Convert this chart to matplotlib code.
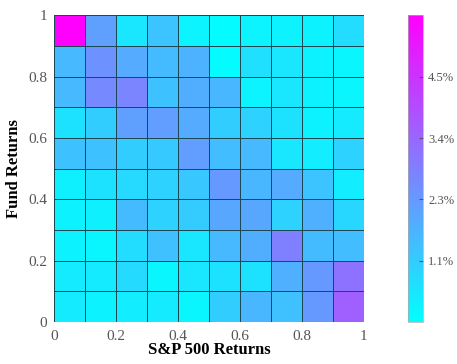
import numpy as np
import matplotlib.pyplot as plt

# bin edges for both axes
x_edges = np.linspace(0, 1, 11)
y_edges = np.linspace(0, 1, 11)

# joint frequency (%), rows listed from top (fund 0.9-1) to bottom (fund 0-0.1)
row_90 = [5.60, 2.10, 0.55, 1.30, 0.25, 0.10, 0.25, 0.30, 0.30, 0.75]
row_80 = [1.55, 2.40, 1.85, 1.50, 1.70, 0.10, 0.70, 0.55, 0.30, 0.20]
row_70 = [1.55, 2.60, 2.70, 1.35, 1.80, 1.60, 0.25, 0.55, 0.30, 0.20]
row_60 = [0.65, 1.10, 2.10, 2.15, 1.85, 1.10, 1.00, 0.65, 0.30, 0.45]
row_50 = [1.35, 1.35, 1.10, 1.20, 2.15, 1.45, 1.55, 0.55, 0.40, 1.00]
row_40 = [0.35, 0.65, 0.85, 1.00, 1.25, 2.25, 1.60, 1.85, 1.30, 0.40]
row_30 = [0.30, 0.35, 1.50, 1.00, 1.15, 1.95, 1.95, 1.00, 1.75, 0.90]
row_20 = [0.30, 0.20, 0.75, 1.40, 0.55, 1.55, 1.80, 2.80, 1.50, 1.45]
row_10 = [0.45, 0.45, 0.80, 0.20, 0.55, 0.65, 0.65, 1.75, 2.25, 3.10]
row_00 = [0.45, 0.30, 0.40, 0.45, 0.20, 1.10, 1.60, 1.40, 2.25, 3.50]

freq = np.array([row_00, row_10, row_20, row_30, row_40,
                 row_50, row_60, row_70, row_80, row_90])

cbar_ticks = [1.124, 2.248, 3.372, 4.496]
cbar_labels = ['1.1%', '2.3%', '3.4%', '4.5%']

plt.rcParams['font.family'] = ['Liberation Serif', 'DejaVu Serif']

fig = plt.figure(figsize=(4.57, 3.64), dpi=100)
ax = fig.add_axes([0.118, 0.115, 0.678, 0.843])
cax = fig.add_axes([0.893, 0.115, 0.033, 0.843])

mesh = ax.pcolormesh(x_edges, y_edges, freq, cmap='cool', vmin=0, vmax=5.62,
                     edgecolor='#1a4855', linewidth=0.5)
ax.set_xlim(0, 1)
ax.set_ylim(0, 1)
ax.set_xticks([0, 0.2, 0.4, 0.6, 0.8, 1])
ax.set_xticklabels(['0', '0.2', '0.4', '0.6', '0.8', '1'])
ax.set_yticks([0, 0.2, 0.4, 0.6, 0.8, 1])
ax.set_yticklabels(['0', '0.2', '0.4', '0.6', '0.8', '1'])
ax.tick_params(direction='in', length=0, labelsize=11, colors='#555555')
ax.tick_params(axis='x', pad=6)
ax.tick_params(axis='y', pad=5)
for s in ax.spines.values():
    s.set_visible(False)
ax.set_xlabel('S&P 500 Returns', fontsize=12, fontweight='bold', labelpad=-1)
ax.set_ylabel('Fund Returns', fontsize=12, fontweight='bold', labelpad=4)

cb = fig.colorbar(mesh, cax=cax)
cb.set_ticks(cbar_ticks)
cb.set_ticklabels(cbar_labels)
cb.ax.tick_params(direction='in', length=3, labelsize=9, colors='#555555')
cb.outline.set_edgecolor('#aaaaaa')
cb.outline.set_linewidth(0.5)

fig.savefig('out.png', dpi=100)
